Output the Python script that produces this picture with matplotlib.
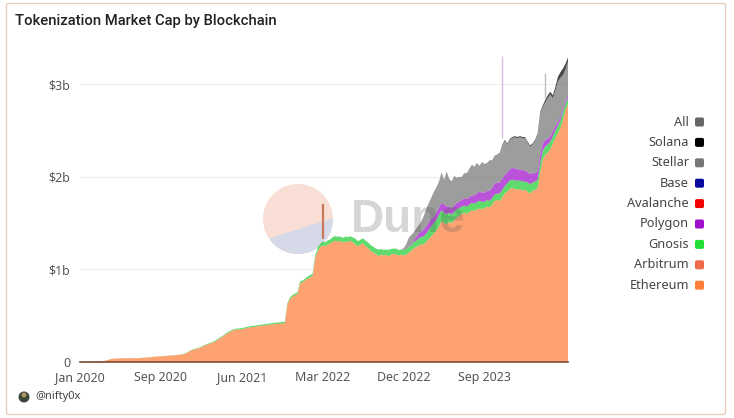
import numpy as np
import matplotlib.pyplot as plt
from matplotlib.patches import Circle, FancyBboxPatch, Polygon

plt.rcParams['font.family'] = ['Noto Sans', 'DejaVu Sans']

# values in $b, one sample per step on the axis
ethereum = [.003,.003,.003,.004,.004,.005,.005,.006,.007,.009,
            .014,.022,.030,.034,.037,.038,.039,.040,.040,.041,
            .041,.042,.042,.041,.043,.046,.048,.050,.052,.055,
            .058,.060,.061,.063,.065,.068,.070,.072,.074,.076,
            .080,.084,.095,.112,.125,.135,.142,.150,.160,.175,
            .185,.195,.205,.215,.232,.250,.265,.285,.305,.320,
            .335,.345,.350,.352,.355,.360,.368,.372,.378,.380,
            .385,.390,.392,.396,.400,.403,.406,.410,.412,.415,
            .418,.420,.620,.680,.705,.720,.735,.850,.860,.880,
            .900,.915,.930,1.12,1.20,1.24,1.26,1.25,1.27,1.28,
            1.30,1.31,1.30,1.31,1.29,1.30,1.30,1.31,1.29,1.27,
            1.25,1.27,1.28,1.25,1.23,1.20,1.18,1.17,1.14,1.16,
            1.15,1.16,1.14,1.16,1.17,1.16,1.15,1.16,1.15,1.16,
            1.18,1.20,1.23,1.24,1.26,1.27,1.27,1.30,1.33,1.36,
            1.39,1.42,1.47,1.52,1.50,1.49,1.51,1.50,1.53,1.56,
            1.58,1.60,1.61,1.60,1.62,1.64,1.63,1.65,1.66,1.65,
            1.66,1.68,1.67,1.70,1.74,1.75,1.74,1.78,1.82,1.84,
            1.87,1.88,1.87,1.86,1.87,1.85,1.86,1.84,1.82,1.85,
            1.86,1.88,2.05,2.18,2.24,2.26,2.30,2.36,2.42,2.47,
            2.53,2.62,2.72,2.79]
arbitrum = [0.0] * 194
gnosis = [.001] * 40 + [.003,.003,.003,.004,.004,.005,.005,.005,.006,.006,
          .006,.007,.007,.008,.008,.009,.009,.009,.010,.010,
          .010,.010,.011,.011,.012,.012,.012,.012,.012,.012,
          .012,.012,.012,.013,.013,.013,.014,.014,.014,.015,
          .015,.015,.016,.016,.017,.018,.018,.020,.020,.020,
          .022,.024,.025,.028,.032,.036,.040,.042,.044,.045,
          .050,.050,.052,.045,.050,.055,.050,.048,.055,.060,
          .055,.052,.055,.060,.060,.062,.065,.055,.075,.060,
          .060,.055,.070,.060,.055,.065,.060,.055,.060,.060,
          .06,.06,.07,.07,.08,.08,.09,.09,.10,.11,
          .11,.12,.12,.12,.11,.11,.10,.09,.09,.09,
          .08,.08,.08,.08,.08,.08,.08,.08,.08,.08,
          .07,.07,.07,.07,.07,.07,.08,.08,.08,.09,
          .09,.09,.09,.10,.09,.10,.09,.10,.10,.09,
          .09,.09,.10,.10,.09,.09,.08,.08,.08,.08,
          .08,.08,.07,.06]
polygon = [0.0] * 130 + [0,.01,.02,.04,.05,.06,.07,.08,.08,.08,
           .07,.08,.08,.08,.09,.08,.07,.07,.07,.07,
           .07,.07,.08,.08,.08,.08,.09,.09,.10,.10,
           .10,.10,.11,.11,.12,.12,.12,.12,.12,.12,
           .12,.13,.13,.12,.12,.12,.12,.11,.11,.10,
           .09,.09,.09,.08,.07,.06,.06,.05,.05,.04,
           .04,.03,.03,.03]
stellar = [0.0] * 128 + [.02,.05,
           .10,.10,.08,.09,.09,.11,.15,.19,.21,.23,
           .27,.27,.28,.33,.27,.38,.30,.29,.32,.27,
           .27,.25,.27,.28,.31,.33,.31,.33,.28,.33,
           .31,.30,.33,.30,.30,.295,.315,.36,.37,.30,
           .32,.318,.338,.338,.348,.348,.348,.318,.298,.308,
           .348,.398,.445,.39,.405,.44,.45,.36,.38,.44,
           .42,.37,.34,.37]
solana = [0.0] * 165 + [.005,.005,.008,.01,.01,
          .01,.012,.012,.012,.012,.012,.012,.012,.012,.012,
          .012,.012,.015,.02,.025,.03,.03,.03,.04,.05,
          .06,.07,.06,.04]

# one-sample spikes: sample index, low, high
spike_idx = [96, 167, 184]
spike_low = [1.33, 2.42, 2.85]
spike_high = [1.71, 3.31, 3.12]
spike_colors = ['#c9785a', '#dcb9e8', '#bdbdbd']
spike_widths = [1.6, 1.0, 1.0]

tick_labels = ['Jan 2020', 'Sep 2020', 'Jun 2021', 'Mar 2022', 'Dec 2022', 'Sep 2023']
tick_idx = [0, 32, 64, 96, 128, 160]

legend_names = ['All', 'Solana', 'Stellar', 'Base', 'Avalanche', 'Polygon', 'Gnosis', 'Arbitrum', 'Ethereum']
legend_colors = ['#666666', '#000000', '#777777', '#0a0a9e', '#f00000', '#a010cc', '#22dd33', '#f0694a', '#ff7f3a']

fig = plt.figure(figsize=(7.34, 4.18), dpi=100)

# backdrop in pixel coordinates: card, watermark disc, legend
bg = fig.add_axes([0, 0, 1, 1], zorder=0)
bg.set_xlim(0, 734)
bg.set_ylim(418, 0)
bg.axis('off')
bg.add_patch(FancyBboxPatch((6.5, 3.5), 719, 411, boxstyle='round,pad=0,rounding_size=2',
                            fc='white', ec='#e8cdbb', lw=1.0))
disc = Circle((298, 219), 35, fc='#f9ded5', ec='none')
bg.add_patch(disc)
low = Polygon([(255, 243), (340, 216), (340, 262), (255, 262)], fc='#d6d9e7', ec='none')
bg.add_patch(low)
low.set_clip_path(disc)
bg.text(15, 21.5, 'Tokenization Market Cap by Blockchain', fontsize=10.6, weight='medium',
        family=['Roboto', 'DejaVu Sans'], color='#222222', va='center')
bg.text(35, 397, '@nifty0x', fontsize=8, color='#444444', va='center')
bg.add_patch(Circle((24, 397), 5.5, fc='#3d4438', ec='none'))
bg.add_patch(Circle((24, 395), 2.5, fc='#a8946a', ec='none'))
for k, (name, col) in enumerate(zip(legend_names, legend_colors)):
    yy = 122 + k * 20.4
    bg.text(689, yy, name, ha='right', va='center', fontsize=9.2, color='#444444')
    bg.add_patch(FancyBboxPatch((695, yy - 4.5), 9, 9, boxstyle='round,pad=0,rounding_size=1.8',
                                fc=col, ec='none'))

ax = fig.add_axes([80 / 734, 56 / 418, 488 / 734, 312 / 418], zorder=1)
ax.patch.set_visible(False)
x = np.arange(194)
ax.stackplot(x, ethereum, arbitrum, gnosis, polygon, stellar, solana,
             colors=['#ff7f3a', '#f0694a', '#22cc33', '#a010cc', '#777777', '#000000'],
             alpha=0.72, lw=0)
ax.vlines(spike_idx, spike_low, spike_high, colors=spike_colors, lw=spike_widths)

ax.set_xlim(0, 193)
ax.set_ylim(0, 3.37)
ax.set_yticks([0, 1, 2, 3])
ax.set_yticklabels(['0', '$1b', '$2b', '$3b'])
ax.set_xticks(tick_idx)
ax.set_xticklabels(tick_labels)
ax.tick_params(length=0, labelsize=8.9, labelcolor='#555555', pad=7)
ax.tick_params(axis='x', pad=6.5)
ax.grid(axis='y', color='#efefef', lw=0.8)
ax.set_axisbelow(True)
for s in ['top', 'right', 'left']:
    ax.spines[s].set_visible(False)
ax.spines['bottom'].set_color('#7a4c34')
ax.spines['bottom'].set_linewidth(1.2)

# watermark sits over the areas
bg2 = fig.add_axes([0, 0, 1, 1], zorder=2)
bg2.set_xlim(0, 734)
bg2.set_ylim(418, 0)
bg2.axis('off')
bg2.text(351, 220, 'Dune', fontsize=33, weight='bold', family=['Liberation Sans', 'DejaVu Sans'],
         color='#555555', alpha=0.24, va='center', ha='left')

fig.savefig('out.png', dpi=100)
